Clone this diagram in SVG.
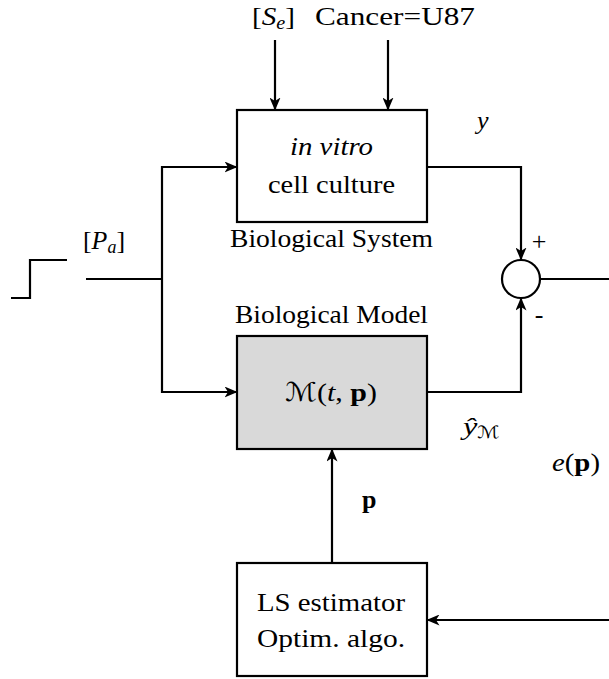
<svg xmlns="http://www.w3.org/2000/svg" width="609" height="679" viewBox="0 0 609 679">
<style>
text{font-family:"Liberation Serif","Times New Roman",serif;fill:#000;font-size:26px}
.c{text-anchor:middle}
.i{font-style:italic}
.b{font-weight:bold}
.cal{font-family:"DejaVu Serif","DejaVu Sans",serif;font-style:normal}
.box{fill:#fff;stroke:#000;stroke-width:2.2}
.grey{fill:#d9d9d9}
.ln{fill:none;stroke:#000;stroke-width:2.2}
.arr{marker-end:url(#ah)}
</style>
<defs>
<marker id="ah" viewBox="0 0 13 11" refX="12.5" refY="5.5" markerWidth="13" markerHeight="11" markerUnits="userSpaceOnUse" orient="auto">
<path d="M0,0 L13,5.5 L0,11 L3.5,5.5 Z" fill="#000"/>
</marker>
</defs>

<g id="connectors">
<line class="ln arr" x1="275" y1="40" x2="275" y2="110"/>
<line class="ln arr" x1="388" y1="40" x2="388" y2="110"/>
<polyline class="ln" points="11,298 30,298 30,260 67,260"/>
<line class="ln" x1="86" y1="279" x2="163" y2="279"/>
<line class="ln" x1="162" y1="166" x2="162" y2="393"/>
<line class="ln arr" x1="161" y1="167" x2="237" y2="167"/>
<line class="ln arr" x1="161" y1="392" x2="237" y2="392"/>
<polyline class="ln arr" points="427,167 521,167 521,260"/>
<polyline class="ln arr" points="427,392 521,392 521,298"/>
<line class="ln" x1="540" y1="279" x2="609" y2="279"/>
<line class="ln arr" x1="609" y1="620" x2="427" y2="620"/>
<line class="ln arr" x1="332" y1="563" x2="332" y2="449"/>
</g>

<g id="labels">
<text x="252" y="25" textLength="43" lengthAdjust="spacingAndGlyphs">[<tspan class="i">S</tspan><tspan class="i" font-size="18" dy="4">e</tspan><tspan dy="-4">]</tspan></text>
<text x="315" y="25" textLength="160" lengthAdjust="spacingAndGlyphs">Cancer=U87</text>
<text x="477" y="129" class="i">y</text>
<text x="83" y="249" textLength="42" lengthAdjust="spacingAndGlyphs">[<tspan class="i">P</tspan><tspan class="i" font-size="18" dy="4">a</tspan><tspan dy="-4">]</tspan></text>
<text x="539" y="250" class="c">+</text>
<text x="539" y="323" class="c">-</text>
<text x="463" y="435" class="i" textLength="37" lengthAdjust="spacingAndGlyphs">ŷ<tspan class="cal" font-size="17" dy="3">ℳ</tspan></text>
<text x="552" y="471" textLength="48" lengthAdjust="spacingAndGlyphs"><tspan class="i">e</tspan>(<tspan class="b">p</tspan>)</text>
<text x="362" y="508" class="b">p</text>
</g>

<g id="sum">
<circle cx="521" cy="279" r="19" class="box"/>
</g>

<g id="bio-system">
<rect x="237" y="110" width="190" height="112" class="box"/>
<text x="331.5" y="155" class="c i" textLength="83" lengthAdjust="spacingAndGlyphs">in vitro</text>
<text x="331.5" y="193" class="c" textLength="127" lengthAdjust="spacingAndGlyphs">cell culture</text>
<text x="331.5" y="247" class="c" textLength="203" lengthAdjust="spacingAndGlyphs">Biological System</text>
</g>

<g id="bio-model">
<text x="331.5" y="323" class="c" textLength="193" lengthAdjust="spacingAndGlyphs">Biological Model</text>
<rect x="237" y="336" width="190" height="113" class="box grey"/>
<text x="331" y="401" class="c" textLength="92" lengthAdjust="spacingAndGlyphs"><tspan class="cal">ℳ</tspan>(<tspan class="i">t</tspan>, <tspan class="b">p</tspan>)</text>
</g>

<g id="ls-estimator">
<rect x="237" y="563" width="190" height="113" class="box"/>
<text x="331" y="611" class="c" textLength="148" lengthAdjust="spacingAndGlyphs">LS estimator</text>
<text x="331" y="647" class="c" textLength="148" lengthAdjust="spacingAndGlyphs">Optim. algo.</text>
</g>
</svg>
